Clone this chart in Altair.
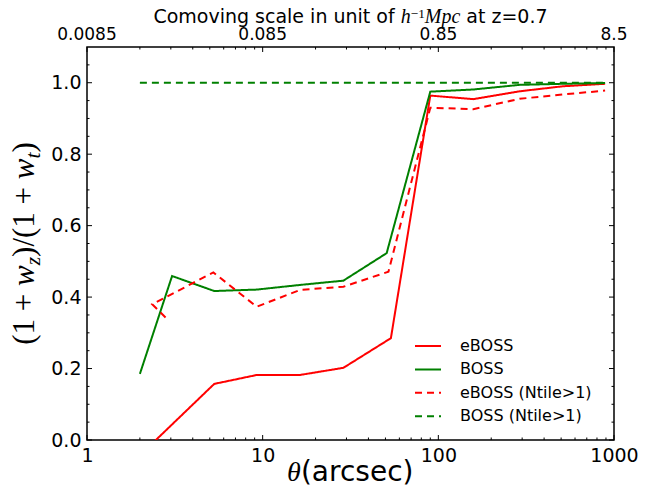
import altair as alt
import pandas as pd

# ---------------- data ----------------
series_names = ["eBOSS", "BOSS", "eBOSS (Ntile>1)", "BOSS (Ntile>1)"]
series_colors = ["#ff0000", "#008000", "#ff0000", "#008000"]
series_dash = [[1, 0], [1, 0], [7, 5], [7, 5]]

eboss_theta = [2.35, 5.3, 9.25, 16.3, 28.8, 53.7, 90, 158, 290, 510, 890]
eboss_val = [-0.01, 0.157, 0.182, 0.182, 0.202, 0.285, 0.964, 0.954, 0.976, 0.990, 0.997]

boss_theta = [2.0, 3.05, 5.3, 9.25, 16.3, 28.8, 50.8, 90, 158, 290, 510, 890]
boss_val = [0.185, 0.459, 0.417, 0.421, 0.434, 0.446, 0.523, 0.975, 0.981, 0.994, 0.997, 0.999]

eboss_nt_theta = [2.8, 2.35, 5.24, 9.25, 16.3, 28.8, 52, 90, 158, 290, 510, 890]
eboss_nt_val = [0.343, 0.380, 0.469, 0.373, 0.420, 0.429, 0.471, 0.930, 0.926, 0.955, 0.967, 0.978]

boss_nt_theta = [2.0, 890]
boss_nt_val = [1.0, 1.0]

x_major = [1, 10, 100, 1000]
x_minor = [2, 3, 4, 5, 6, 7, 8, 9, 20, 30, 40, 50, 60, 70, 80, 90,
           200, 300, 400, 500, 600, 700, 800, 900]
y_major = [0.0, 0.2, 0.4, 0.6, 0.8, 1.0]
y_minor = [0.05, 0.1, 0.15, 0.25, 0.3, 0.35, 0.45, 0.5, 0.55, 0.65, 0.7, 0.75,
           0.85, 0.9, 0.95, 1.05]
top_labels = ["0.0085", "0.085", "0.85", "8.5"]

# ---------------- layout constants ----------------
W, H = 527, 393
MAJ, MIN = 5, 2.5

xs = alt.Scale(type="log", domain=[1, 1000], nice=False)
ys = alt.Scale(domain=[0, 1.1], nice=False, zero=False)

xaxis = alt.Axis(values=x_major, format="d", ticks=False, domain=False, grid=False,
                 labelFontSize=19, labelPadding=6, labelFlush=False,
                 labelOverlap=False, title=None)
yaxis = alt.Axis(values=y_major, format=".1f", ticks=False, domain=False, grid=False,
                 labelFontSize=19, labelPadding=6, labelOverlap=False, title=None)


def X(field):
    return alt.X(field, scale=xs, axis=xaxis)


def Y(field):
    return alt.Y(field, scale=ys, axis=yaxis)


all_series = [
    (eboss_theta, eboss_val),
    (boss_theta, boss_val),
    (eboss_nt_theta, eboss_nt_val),
    (boss_nt_theta, boss_nt_val),
]

layers = []
for i, (th, v) in enumerate(all_series):
    df = pd.DataFrame({"theta": th, "val": v, "idx": list(range(len(th)))})
    layers.append(
        alt.Chart(df).mark_line(color=series_colors[i], strokeWidth=2,
                                strokeDash=series_dash[i], clip=True)
        .encode(x=X("theta:Q"), y=Y("val:Q"), order="idx:Q")
    )

# ---------------- inward ticks ----------------
def xticks(vals, length):
    d = pd.DataFrame({"theta": vals})
    bottom = alt.Chart(d).mark_rule(color="black", strokeWidth=1).encode(
        x=X("theta:Q"), y=alt.value(H), y2=alt.value(H - length))
    top = alt.Chart(d).mark_rule(color="black", strokeWidth=1).encode(
        x=X("theta:Q"), y=alt.value(0), y2=alt.value(length))
    return [bottom, top]


def yticks(vals, length):
    d = pd.DataFrame({"val": vals})
    left = alt.Chart(d).mark_rule(color="black", strokeWidth=1).encode(
        y=Y("val:Q"), x=alt.value(0), x2=alt.value(length))
    right = alt.Chart(d).mark_rule(color="black", strokeWidth=1).encode(
        y=Y("val:Q"), x=alt.value(W), x2=alt.value(W - length))
    return [left, right]


layers += xticks(x_major, MAJ) + xticks(x_minor, MIN)
layers += yticks(y_major, MAJ) + yticks(y_minor, MIN)

# ---------------- top secondary-axis labels ----------------
top_df = pd.DataFrame({"theta": x_major, "lab": top_labels})
layers.append(
    alt.Chart(top_df).mark_text(baseline="alphabetic", fontSize=17, font="DejaVu Sans",
                                color="black")
    .encode(x=X("theta:Q"), y=alt.value(-7), text="lab:N")
)

# ---------------- text helpers ----------------
SANS = {" ": .318, "C": .698, "o": .612, "m": .974, "v": .592, "i": .278, "n": .634,
        "g": .635, "s": .521, "c": .550, "a": .613, "l": .278, "e": .615, "u": .634,
        "t": .392, "f": .352, "z": .525, "=": .838, "0": .636, ".": .318, "7": .636,
        "(": .390, ")": .390, "r": .411}
SERIF = {"(": .333, ")": .333, "1": .5, " ": .25, "+": .564, "/": .278, "\u2212": .564}
SERIF_I = {"w": .667, "z": .389, "t": .278, "h": .5, "M": .833, "p": .5, "c": .444,
           "\u03b8": .5}


def tw(text, table, size):
    return sum(table.get(c, .6) for c in text) * size


def text_layer(txt, x, y, font, size, style="normal", angle=None):
    kw = dict(align="left", baseline="alphabetic", font=font, fontSize=size,
              fontStyle=style, color="black")
    if angle is not None:
        kw["angle"] = angle
    return alt.Chart(pd.DataFrame({"t": [txt]})).mark_text(**kw).encode(
        x=alt.value(x), y=alt.value(y), text="t:N")


# top title: "Comoving scale in unit of h^-1 Mpc at z=0.7"
TS = 19
tpieces = [
    ("Comoving scale in unit of ", "DejaVu Sans", "normal", TS, 0, SANS),
    ("h", "Liberation Serif", "italic", TS * 1.05, 0, SERIF_I),
    ("\u22121", "Liberation Serif", "normal", TS * 0.7, -5, SERIF),
    ("Mpc", "Liberation Serif", "italic", TS * 1.05, 0, SERIF_I),
    (" at z=0.7", "DejaVu Sans", "normal", TS, 0, SANS),
]
total = sum(tw(p[0], p[5], p[3]) for p in tpieces)
cx = W / 2 - total / 2
for txt, font, style, size, shift, table in tpieces:
    lead = len(txt) - len(txt.lstrip())
    layers.append(text_layer(txt.strip(), cx + tw(txt[:lead], table, size), -24 + shift,
                             font, size, style))
    cx += tw(txt, table, size)

# x title: theta(arcsec)
XS = 28
xpieces = [("\u03b8", "Liberation Serif", "italic", XS, SERIF_I),
           ("(arcsec)", "DejaVu Sans", "normal", XS, SANS)]
total = sum(tw(p[0], p[4], p[3]) for p in xpieces)
cx = W / 2 - total / 2
for txt, font, style, size, table in xpieces:
    layers.append(text_layer(txt, cx, H + 41, font, size, style))
    cx += tw(txt, table, size)

# y title: (1 + w_z)/(1 + w_t), rotated
YS = 31
ypieces = [
    ("(1 + ", "normal", YS, 0, SERIF),
    ("w", "italic", YS, 0, SERIF_I),
    ("z", "italic", YS * 0.7, 6, SERIF_I),
    (")/(1 + ", "normal", YS, 0, SERIF),
    ("w", "italic", YS, 0, SERIF_I),
    ("t", "italic", YS * 0.7, 6, SERIF_I),
    (")", "normal", YS, 0, SERIF),
]
total = sum(tw(p[0], p[4], p[2]) for p in ypieces)
cy = H / 2 + total / 2
for txt, style, size, shift, table in ypieces:
    layers.append(text_layer(txt.strip(), -53 + shift, cy, "Liberation Serif", size, style,
                             angle=270))
    cy -= tw(txt, table, size)

# ---------------- legend ----------------
leg_y0, leg_dy = 299, 23.4
for i, name in enumerate(series_names):
    ry = leg_y0 + leg_dy * i
    layers.append(
        alt.Chart(pd.DataFrame({"s": [name]})).mark_rule(
            color=series_colors[i], strokeWidth=2, strokeDash=series_dash[i])
        .encode(x=alt.value(328), x2=alt.value(354), y=alt.value(ry))
    )
    layers.append(
        alt.Chart(pd.DataFrame({"s": [name]})).mark_text(
            align="left", baseline="middle", font="DejaVu Sans", fontSize=16,
            color="black")
        .encode(x=alt.value(373), y=alt.value(ry), text="s:N")
    )

chart = alt.layer(*layers).properties(
    width=W, height=H,
    autosize=alt.AutoSizeParams(type="none"),
    padding={"left": 79, "top": 39, "right": 35, "bottom": 45},
    background="white",
).configure_view(stroke="black", strokeWidth=1.5).configure_axis(
    labelColor="black", labelFont="DejaVu Sans")

chart.save("out.html", embed_options={"renderer": "svg", "actions": False})
